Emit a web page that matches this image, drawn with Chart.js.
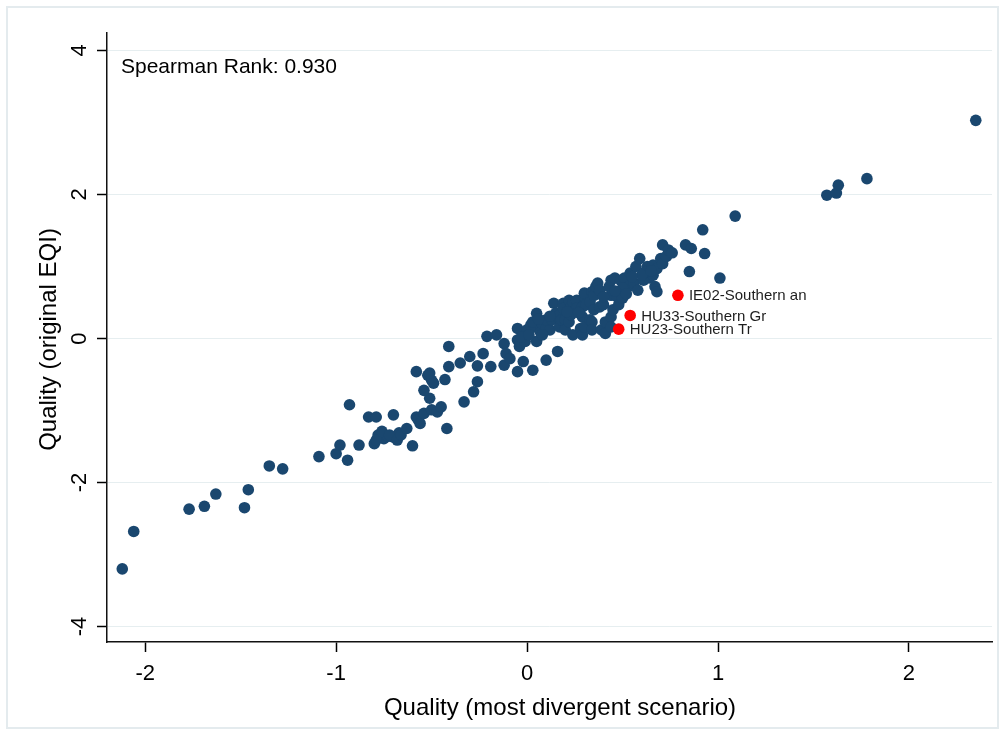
<!DOCTYPE html>
<html>
<head>
<meta charset="utf-8">
<script src="https://cdn.jsdelivr.net/npm/chart.js@4/dist/chart.umd.min.js"></script>
<style>
  html, body { margin: 0; padding: 0; background: #ffffff; }
  canvas { display: block; }
</style>
</head>
<body>
<canvas id="chart" width="1005" height="735"></canvas>
<script>
// Axis ticks and texts
const xTickValues = [-2, -1, 0, 1, 2];
const yTickValues = [-4, -2, 0, 2, 4];
const xTitle = 'Quality (most divergent scenario)';
const yTitle = 'Quality (original EQI)';
const noteText = 'Spearman Rank: 0.930';

// Regional quality scores: most divergent scenario (x) vs original EQI (y)
const regionX = [
  -2.12, -2.06, -1.77, -1.69, -1.63, -1.48, -1.46, -1.35, -1.28, -1.09,
  -1.00, -0.94, -0.98, -0.93, -0.88, -0.83, -0.79, -0.80, -0.78, -0.75,
  -0.79, -0.73, -0.70, -0.67, -0.76, -0.70, -0.72, -0.68, -0.66, -0.63,
  -0.60, -0.58, -0.57, -0.56, -0.54, -0.50, -0.47, -0.45, -0.42, -0.51,
  -0.54, -0.52, -0.50, -0.49, -0.51, -0.58, -0.43, -0.41, -0.41, -0.35,
  -0.30, -0.33, -0.28, -0.26, -0.26, -0.23, -0.21, -0.16, -0.19, -0.12,
  -0.11, -0.12, -0.09, -0.05, -0.02, 0.03, -0.05, -0.05, -0.04, -0.01,
  -0.02, 0.00, -0.03, 0.02, 0.04, 0.05, 0.05, 0.03, 0.07, 0.08,
  0.10, 0.10, 0.12, 0.08, 0.10, 0.13, 0.14, 0.15, 0.16, 0.16,
  0.17, 0.17, 0.18, 0.19, 0.19, 0.20, 0.20, 0.22, 0.22, 0.23,
  0.23, 0.23, 0.24, 0.24, 0.26, 0.26, 0.28, 0.29, 0.29, 0.29,
  0.30, 0.30, 0.30, 0.31, 0.33, 0.33, 0.34, 0.34, 0.34, 0.35,
  0.35, 0.36, 0.37, 0.38, 0.38, 0.39, 0.40, 0.41, 0.41, 0.43,
  0.44, 0.44, 0.44, 0.44, 0.45, 0.46, 0.47, 0.48, 0.49, 0.50,
  0.51, 0.53, 0.54, 0.56, 0.57, 0.58, 0.59, 0.61, 0.63, 0.64,
  0.66, 0.66, 0.67, 0.68, 0.68, 0.70, 0.71, 0.71, 0.73, 0.74,
  0.76, 0.83, 0.86, 0.85, 0.92, 0.93, 1.01, 1.09, 1.57, 1.62,
  1.63, 1.78, 2.35,
  0.62, 0.60, 0.55, 0.50, 0.46, 0.40, 0.27, 0.21, 0.12, 0.06,
  0.01, 0.65, 0.52
];
const regionY = [
  -3.20, -2.68, -2.37, -2.33, -2.16, -2.35, -2.10, -1.77, -1.81, -1.64,
  -1.60, -1.69, -1.48, -0.92, -1.48, -1.09, -1.09, -1.46, -1.34, -1.39,
  -1.41, -1.36, -1.37, -1.31, -1.29, -1.06, -1.34, -1.41, -1.34, -1.25,
  -1.49, -1.09, -1.13, -1.18, -1.04, -0.99, -1.02, -0.95, -1.25, -0.83,
  -0.72, -0.51, -0.58, -0.62, -0.48, -0.46, -0.57, -0.39, -0.11, -0.34,
  -0.25, -0.88, -0.74, -0.60, -0.38, -0.21, 0.03, 0.05, -0.39, -0.07,
  -0.21, -0.37, -0.28, -0.46, -0.32, -0.44, 0.14, -0.02, -0.11, -0.04,
  0.07, 0.12, 0.02, 0.19, 0.16, -0.04, 0.35, 0.23, 0.09, 0.21,
  -0.30, 0.14, 0.12, 0.05, 0.26, 0.26, 0.49, 0.35, -0.18, 0.30,
  0.16, 0.33, 0.26, 0.49, 0.42, 0.26, 0.12, 0.23, 0.53, 0.40,
  0.33, 0.44, 0.05, 0.51, 0.53, 0.42, 0.14, 0.44, 0.05, 0.30,
  0.58, 0.63, 0.16, 0.47, 0.51, 0.26, 0.65, 0.23, 0.12, 0.60,
  0.40, 0.72, 0.77, 0.44, 0.67, 0.12, 0.47, 0.23, 0.07, 0.72,
  0.30, 0.81, 0.60, 0.16, 0.40, 0.84, 0.58, 0.47, 0.81, 0.56,
  0.84, 0.72, 0.91, 0.77, 1.00, 0.67, 1.11, 0.81, 1.00, 0.84,
  0.88, 1.02, 0.72, 0.97, 0.65, 1.11, 1.04, 1.30, 1.14, 1.23,
  1.19, 1.30, 1.25, 0.93, 1.51, 1.18, 0.84, 1.70, 1.99, 2.02,
  2.13, 2.22, 3.03,
  0.93, 0.88, 0.86, 0.70, 0.66, 0.58, 0.36, 0.37, 0.31, 0.27,
  0.05, 0.94, 0.62
];

// Highlighted regions, labelled on the chart
const flaggedNames = ['IE02-Southern an', 'HU33-Southern Gr', 'HU23-Southern Tr'];
const flaggedX = [0.79, 0.54, 0.48];
const flaggedY = [0.60, 0.32, 0.13];

const FONT = '"Liberation Sans", Arial, Helvetica, sans-serif';
const NAVY = '#1a476f';
const RED = '#ff0000';

const toPoints = (xs, ys) => xs.map((v, i) => ({ x: v, y: ys[i] }));

const decorations = {
  id: 'decorations',
  beforeDraw(chart) {
    const ctx = chart.ctx;
    ctx.save();
    ctx.fillStyle = '#ffffff';
    ctx.fillRect(0, 0, chart.width, chart.height);
    ctx.strokeStyle = '#e4ebee';
    ctx.lineWidth = 2;
    ctx.strokeRect(7, 7, chart.width - 14, chart.height - 14);
    ctx.restore();
  },
  afterDraw(chart) {
    const { ctx, chartArea: a } = chart;
    const xs = chart.scales.x, ys = chart.scales.y;
    ctx.save();
    ctx.fillStyle = '#000000';

    // tick labels
    ctx.font = '22px ' + FONT;
    ctx.textAlign = 'center';
    ctx.textBaseline = 'alphabetic';
    xTickValues.forEach(v => ctx.fillText(String(v), xs.getPixelForValue(v), a.bottom + 38));
    yTickValues.forEach(v => {
      ctx.save();
      ctx.translate(a.left - 21, ys.getPixelForValue(v));
      ctx.rotate(-Math.PI / 2);
      ctx.fillText(String(v), 0, 0);
      ctx.restore();
    });

    // axis titles
    ctx.font = '24px ' + FONT;
    ctx.fillText(xTitle, 560, 715);
    ctx.save();
    ctx.translate(56, (a.top + a.bottom) / 2 + 2);
    ctx.rotate(-Math.PI / 2);
    ctx.fillText(yTitle, 0, 0);
    ctx.restore();

    // note in the upper left corner
    ctx.font = '21px ' + FONT;
    ctx.textAlign = 'left';
    ctx.fillText(noteText, a.left + 14, a.top + 39.5);

    // labels for highlighted regions
    ctx.font = '15px ' + FONT;
    ctx.fillStyle = '#1e1e1e';
    ctx.textBaseline = 'middle';
    flaggedNames.forEach((name, i) => {
      ctx.fillText(name, xs.getPixelForValue(flaggedX[i]) + 11, ys.getPixelForValue(flaggedY[i]) + 1);
    });
    ctx.restore();
  }
};

new Chart(document.getElementById('chart'), {
  type: 'scatter',
  data: {
    datasets: [
      {
        data: toPoints(flaggedX, flaggedY),
        backgroundColor: RED,
        borderWidth: 0,
        pointRadius: 5.8,
        clip: false
      },
      {
        data: toPoints(regionX, regionY),
        backgroundColor: NAVY,
        borderWidth: 0,
        pointRadius: 5.8,
        clip: false
      }
    ]
  },
  options: {
    responsive: false,
    animation: false,
    devicePixelRatio: 1,
    layout: { padding: { left: 0, top: 33, right: 13, bottom: 0 } },
    plugins: { legend: { display: false }, tooltip: { enabled: false } },
    scales: {
      x: {
        type: 'linear',
        min: -2.2,
        max: 2.435,
        afterBuildTicks(s) { s.ticks = xTickValues.map(v => ({ value: v })); },
        afterFit(s) { s.height = 93; },
        ticks: { display: false },
        grid: {
          drawOnChartArea: false,
          drawTicks: true,
          tickLength: 10,
          tickColor: '#000000',
          tickWidth: 1.5
        },
        border: { display: true, color: '#111111', width: 1.5 }
      },
      y: {
        type: 'linear',
        min: -4.215,
        max: 4.243,
        afterBuildTicks(s) { s.ticks = yTickValues.map(v => ({ value: v })); },
        afterFit(s) { s.width = 107; },
        ticks: { display: false },
        grid: {
          drawOnChartArea: true,
          color: '#e6eef0',
          lineWidth: 1,
          drawTicks: true,
          tickLength: 10,
          tickColor: '#000000',
          tickWidth: 1.5
        },
        border: { display: true, color: '#111111', width: 1.5 }
      }
    }
  },
  plugins: [decorations]
});
</script>
</body>
</html>
